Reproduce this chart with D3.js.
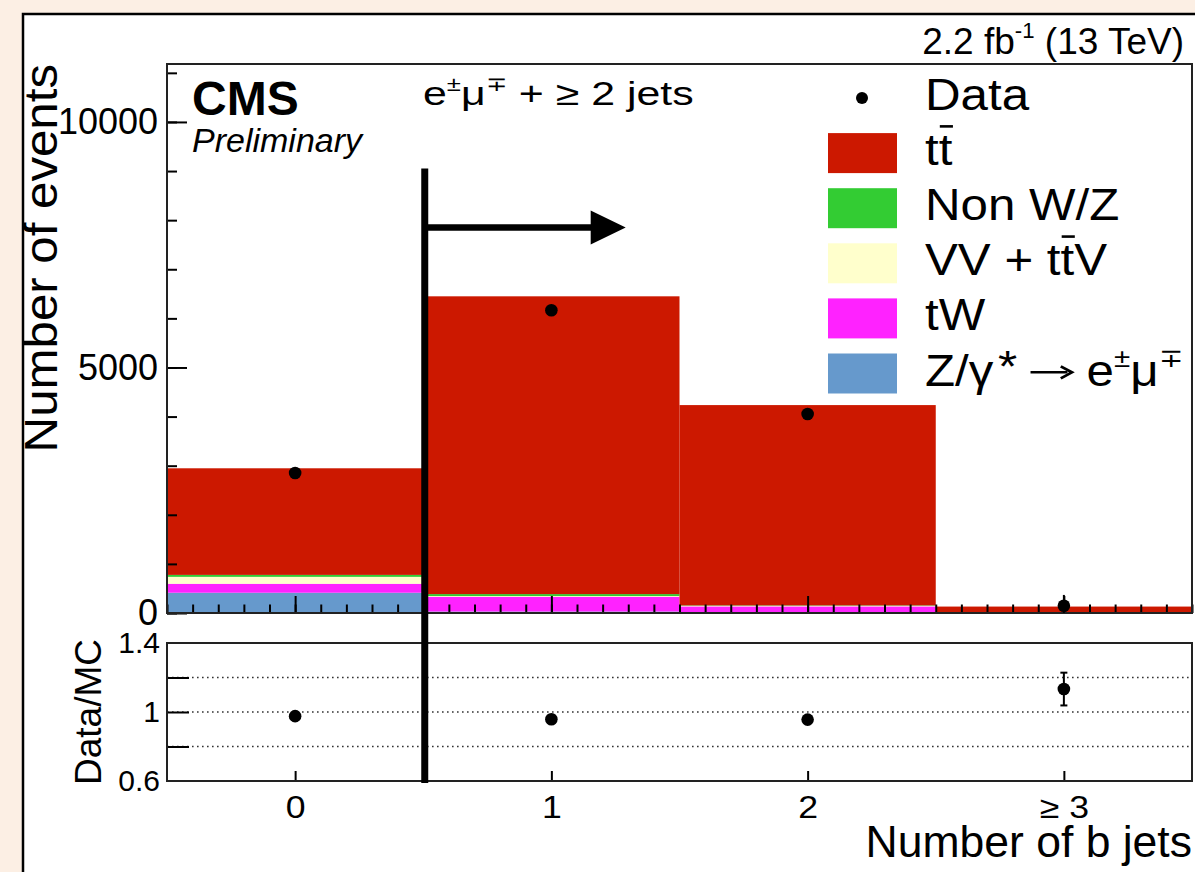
<!DOCTYPE html>
<html>
<head>
<meta charset="utf-8">
<script src="https://cdn.jsdelivr.net/npm/d3@7"></script>
<style>
  html, body { margin: 0; padding: 0; background: #fcefe4; }
  svg { display: block; font-family: "Liberation Sans", Arial, Helvetica, sans-serif; }
</style>
</head>
<body>
<div id="chart"></div>
<script>
// b-jet multiplicity bins
var binLabels = ["0", "1", "2", "\u2265 3"];
var binCenters = [0, 1, 2, 3];

// simulated yields per bin, stacked bottom -> top
var zgamma = [413, 30, 5, 0];
var tW     = [183, 300, 130, 10];
var vvttv  = [140, 15, 10, 2];
var nonWZ  = [40, 40, 10, 1];
var ttbar  = [2171, 6064, 4079, 118];

// observed data and ratio to MC
var dataCounts = [2852, 6165, 4051, 148];
var dataErr    = [55, 80, 65, 220];
var ratioVals  = [0.976, 0.958, 0.956, 1.133];
var ratioErr   = [0.02, 0.013, 0.016, 0.095];

var yMajorMain = [0, 5000, 10000];
var yLabelsRatio = [0.6, 1, 1.4];
var ratioGrid = [0.8, 1, 1.2];

// selection cut annotation (x in bins, y in events)
var cutX = 0.5, cutTop = 9050, arrowY = 7850, arrowTip = 1.29;

var W = 1195, H = 872;
var main = {left: 167, right: 1192, top: 64, bottom: 613};
var rat = {top: 643, bottom: 781};

var svg = d3.select("#chart").append("svg").attr("width", W).attr("height", H);

// page frame
svg.append("rect").attr("x", 0).attr("y", 0).attr("width", W).attr("height", H).attr("fill", "#fcefe4");
svg.append("rect").attr("x", 23).attr("y", 14).attr("width", 1250).attr("height", 950)
  .attr("fill", "#ffffff").attr("stroke", "#000").attr("stroke-width", 2.5);

var x = d3.scaleLinear().domain([-0.5, 3.5]).range([main.left, main.right]);
var y = d3.scaleLinear().domain([0, 11180]).range([main.bottom, main.top]);
var yr = d3.scaleLinear().domain([0.6, 1.4]).range([rat.bottom, rat.top]);

var keys = ["zg", "tw", "vv", "nonwz", "tt"];
var colors = {zg: "#6699cc", tw: "#ff22ff", vv: "#ffffcc", nonwz: "#33cc33", tt: "#cc1800"};
var table = binCenters.map(function (c, i) {
  return {bin: c, zg: zgamma[i], tw: tW[i], vv: vvttv[i], nonwz: nonWZ[i], tt: ttbar[i]};
});
var series = d3.stack().keys(keys)(table);

svg.append("g").selectAll("g").data(series).enter().append("g")
  .attr("fill", function (s) { return colors[s.key]; })
  .selectAll("rect").data(function (s) { return s; }).enter().append("rect")
  .attr("x", function (d) { return x(d.data.bin - 0.5); })
  .attr("width", function (d) { return x(d.data.bin + 0.5) - x(d.data.bin - 0.5); })
  .attr("y", function (d) { return y(d[1]); })
  .attr("height", function (d) { return Math.max(0, y(d[0]) - y(d[1])); });

function styleAxis(sel, fs) {
  sel.select(".domain").remove();
  sel.selectAll("line").attr("stroke", "#000").attr("stroke-width", 2);
  sel.selectAll("text").attr("fill", "#000").attr("font-size", fs)
    .attr("font-family", "Liberation Sans, Arial, Helvetica, sans-serif");
}

// main panel ticks
svg.append("g").attr("transform", "translate(0," + main.bottom + ")")
  .call(d3.axisBottom(x).tickValues(d3.range(-5, 36).map(function (i) { return i / 10; })).tickSize(-8.5).tickFormat(""))
  .call(styleAxis, 30);
svg.append("g").attr("transform", "translate(0," + main.bottom + ")")
  .call(d3.axisBottom(x).tickValues(binCenters).tickSize(-17).tickFormat(""))
  .call(styleAxis, 30);
svg.append("g").attr("transform", "translate(" + main.left + ",0)")
  .call(d3.axisLeft(y).tickValues(d3.range(0, 11001, 1000)).tickSize(-10).tickFormat(""))
  .call(styleAxis, 36);
svg.append("g").attr("transform", "translate(" + main.left + ",0)")
  .call(d3.axisLeft(y).tickValues(yMajorMain).tickSize(-20).tickPadding(9).tickFormat(d3.format("d")))
  .call(styleAxis, 36);

svg.append("rect").attr("x", main.left).attr("y", main.top)
  .attr("width", main.right - main.left).attr("height", main.bottom - main.top)
  .attr("fill", "none").attr("stroke", "#222").attr("stroke-width", 2);

// data points
var pts = svg.append("g");
pts.selectAll("line").data(binCenters).enter().append("line")
  .attr("x1", function (d) { return x(d); }).attr("x2", function (d) { return x(d); })
  .attr("y1", function (d, i) { return y(dataCounts[i] + dataErr[i]); })
  .attr("y2", function (d, i) { return y(Math.max(0, dataCounts[i] - dataErr[i])); })
  .attr("stroke", "#000").attr("stroke-width", 2);
pts.selectAll("circle").data(binCenters).enter().append("circle")
  .attr("cx", function (d) { return x(d); })
  .attr("cy", function (d, i) { return y(dataCounts[i]); })
  .attr("r", 6.3).attr("fill", "#000");

// ratio panel
svg.append("g").selectAll("line").data(ratioGrid).enter().append("line")
  .attr("x1", main.left).attr("x2", main.right)
  .attr("y1", function (d) { return yr(d); }).attr("y2", function (d) { return yr(d); })
  .attr("stroke", "#333").attr("stroke-width", 1.4).attr("stroke-dasharray", "1.6,3.4");

var xr = svg.append("g").attr("transform", "translate(0," + rat.bottom + ")")
  .call(d3.axisBottom(x).tickValues(binCenters).tickSize(-10).tickPadding(15)
    .tickFormat(function (d, i) { return binLabels[i]; }))
  .call(styleAxis, 31);
xr.selectAll(".tick text").attr("transform", "scale(1.15,1)").attr("x", 0);
svg.append("g").attr("transform", "translate(" + main.left + ",0)")
  .call(d3.axisLeft(yr).tickValues(ratioGrid).tickSize(-22).tickFormat(""))
  .call(styleAxis, 30);
svg.append("g").attr("transform", "translate(" + main.left + ",0)")
  .call(d3.axisLeft(yr).tickValues(yLabelsRatio).tickSize(0).tickPadding(7).tickFormat(d3.format("")))
  .call(styleAxis, 30);

svg.append("rect").attr("x", main.left).attr("y", rat.top)
  .attr("width", main.right - main.left).attr("height", rat.bottom - rat.top)
  .attr("fill", "none").attr("stroke", "#222").attr("stroke-width", 2);

var rp = svg.append("g");
rp.selectAll("line.err").data(binCenters).enter().append("line")
  .attr("x1", function (d) { return x(d); }).attr("x2", function (d) { return x(d); })
  .attr("y1", function (d, i) { return yr(ratioVals[i] + ratioErr[i]); })
  .attr("y2", function (d, i) { return yr(ratioVals[i] - ratioErr[i]); })
  .attr("stroke", "#000").attr("stroke-width", 2);
[1, -1].forEach(function (s) {
  rp.selectAll(null).data(binCenters).enter().append("line")
    .attr("x1", function (d) { return x(d) - 3.5; }).attr("x2", function (d) { return x(d) + 3.5; })
    .attr("y1", function (d, i) { return yr(ratioVals[i] + s * ratioErr[i]); })
    .attr("y2", function (d, i) { return yr(ratioVals[i] + s * ratioErr[i]); })
    .attr("stroke", "#000").attr("stroke-width", 2);
});
rp.selectAll("circle").data(binCenters).enter().append("circle")
  .attr("cx", function (d) { return x(d); })
  .attr("cy", function (d, i) { return yr(ratioVals[i]); })
  .attr("r", 6.3).attr("fill", "#000");

// cut line and arrow
svg.append("line").attr("x1", x(cutX) + 1.5).attr("x2", x(cutX) + 1.5)
  .attr("y1", y(cutTop)).attr("y2", rat.bottom + 2)
  .attr("stroke", "#000").attr("stroke-width", 7);
var ay = y(arrowY), tip = x(arrowTip);
svg.append("line").attr("x1", x(cutX) + 4).attr("x2", tip - 30).attr("y1", ay).attr("y2", ay)
  .attr("stroke", "#000").attr("stroke-width", 6.5);
svg.append("path").attr("d", "M" + (tip - 35) + "," + (ay - 17) + "L" + tip + "," + ay + "L" + (tip - 35) + "," + (ay + 17) + "Z")
  .attr("fill", "#000");

// text helpers
function label(px, py, fs, sx, anchor) {
  var grp = svg.append("g").attr("transform", "translate(" + px + "," + py + ") scale(" + sx + ",1)");
  var t = grp.append("text").attr("x", 0).attr("y", 0).attr("font-size", fs);
  if (anchor) t.attr("text-anchor", anchor);
  return t;
}
// superscript, then the following piece drops back to the baseline
function sup(t, s, fs) {
  t.append("tspan").attr("dy", -fs * 0.42).attr("font-size", fs * 0.6).text(s);
}
function after(t, s, fs) {
  return t.append("tspan").attr("dy", fs * 0.42).text(s);
}
function overbar(t, idx, fs) {
  var e = t.node().getExtentOfChar(idx);
  var by = -fs * 0.88;
  d3.select(t.node().parentNode).append("line")
    .attr("x1", e.x + 1).attr("x2", e.x + e.width + 0.5)
    .attr("y1", by).attr("y2", by).attr("stroke", "#000").attr("stroke-width", 2.6);
}

// labels
label(192, 115, 48, 1, null).attr("font-weight", "bold").text("CMS");
label(192, 152, 34, 1, null).attr("font-style", "italic").text("Preliminary");

var ch = label(423, 105, 33.5, 1.28, null);
ch.append("tspan").text("e"); sup(ch, "\u00b1", 33.5);
after(ch, "\u03bc", 33.5); sup(ch, "\u2213", 33.5);
after(ch, " + \u2265 2 jets", 33.5);

var lumi = label(1184, 53.5, 37, 1, "end");
lumi.append("tspan").text("2.2 fb"); sup(lumi, "-1", 37);
after(lumi, " (13 TeV)", 37);

svg.append("text").attr("transform", "translate(57,64) rotate(-90) scale(1.07,1)")
  .attr("text-anchor", "end").attr("font-size", 46).text("Number of events");
svg.append("text").attr("transform", "translate(101,712) rotate(-90)")
  .attr("text-anchor", "middle").attr("font-size", 37).text("Data/MC");
label(1192, 857, 44.5, 1, "end").text("Number of b jets");

// legend
var legendKeys = ["data", "tt", "nonwz", "vv", "tw", "zg"];
var fsL = 44, sxL = 1.12;
legendKeys.forEach(function (k, i) {
  var cy = 98 + i * 55.1;
  if (k === "data") {
    svg.append("circle").attr("cx", 862).attr("cy", cy).attr("r", 6).attr("fill", "#000");
  } else {
    svg.append("rect").attr("x", 828).attr("y", cy - 20).attr("width", 69).attr("height", 40).attr("fill", colors[k]);
  }
  var t = label(925, cy + 12, fsL, sxL, null);
  if (k === "data") t.text("Data");
  if (k === "tt") { t.text("tt"); overbar(t, 1, fsL); }
  if (k === "nonwz") t.text("Non W/Z");
  if (k === "vv") { t.text("VV + ttV"); overbar(t, 6, fsL); }
  if (k === "tw") t.text("tW");
  if (k === "zg") {
    t.append("tspan").text("Z/\u03b3");
    t.append("tspan").attr("dx", 4).attr("dy", -4).text("*");
    t.append("tspan").attr("dx", 62).attr("dy", 4).text("e");
    sup(t, "\u00b1", fsL);
    after(t, "\u03bc", fsL);
    sup(t, "\u2213", fsL);
    // long right arrow between the two parts
    var a = t.node().getExtentOfChar(3), b = t.node().getExtentOfChar(4);
    var ax1 = a.x + a.width + 12, ax2 = b.x - 13, ayL = -fsL * 0.3;
    var lgp = d3.select(t.node().parentNode);
    lgp.append("line").attr("x1", ax1).attr("x2", ax2 - 4).attr("y1", ayL).attr("y2", ayL)
      .attr("stroke", "#000").attr("stroke-width", 2.6);
    lgp.append("path").attr("d", "M" + (ax2 - 10) + "," + (ayL - 6) + "L" + ax2 + "," + ayL + "L" + (ax2 - 10) + "," + (ayL + 6))
      .attr("fill", "none").attr("stroke", "#000").attr("stroke-width", 2.6);
  }
});
</script>
</body>
</html>
